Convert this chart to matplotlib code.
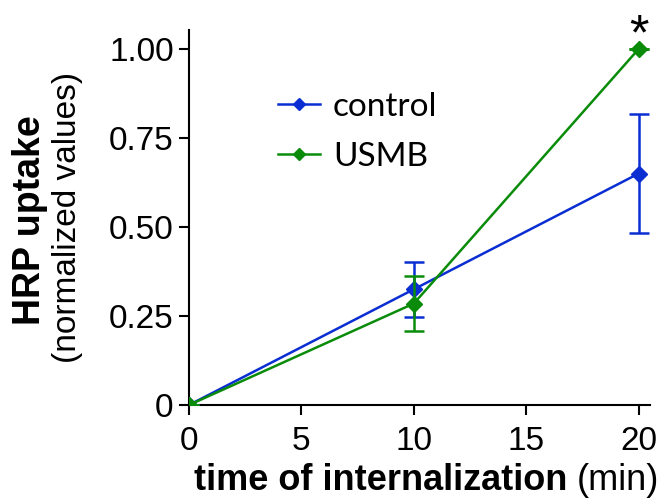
import matplotlib
matplotlib.use("Agg")
import matplotlib.pyplot as plt
from matplotlib.lines import Line2D

plt.rcParams['font.family'] = ['Liberation Sans', 'DejaVu Sans']

# data
time_min = [0, 10, 20]
control = [0.0, 0.325, 0.65]
control_err = [0.0, 0.077, 0.167]
usmb = [0.0, 0.285, 1.0]
usmb_err = [0.0, 0.078, 0.0]
series_names = ['control', 'USMB']

blue = '#0a2ed2'
green = '#0a8c0a'

fig = plt.figure(figsize=(6.59, 5.0), dpi=100)
ax = fig.add_axes([0.2868, 0.19, 0.6995, 0.75])

ax.errorbar(time_min, control, yerr=control_err, color=blue, marker='D',
            markersize=8, lw=1.8, capsize=7, capthick=1.8, elinewidth=1.8,
            zorder=3)
ax.errorbar(time_min, usmb, yerr=usmb_err, color=green, marker='D',
            markersize=8, lw=1.8, capsize=7, capthick=1.8, elinewidth=1.8,
            zorder=4)

ax.text(20, 1.035, '*', ha='center', va='center', fontsize=36, clip_on=False)

ax.set_xlim(0, 20.5)
ax.set_ylim(0, 1.053)
ax.set_xticks([0, 5, 10, 15, 20])
ax.set_yticks([0, 0.25, 0.5, 0.75, 1.0])
ax.set_yticklabels(['0', '0.25', '0.50', '0.75', '1.00'])
ax.spines['top'].set_visible(False)
ax.spines['right'].set_visible(False)
for s in ['left', 'bottom']:
    ax.spines[s].set_linewidth(1.5)
ax.tick_params(direction='out', length=7, width=1.5, labelsize=24)
ax.tick_params(axis='x', pad=8)
ax.tick_params(axis='y', pad=4)

handles = [Line2D([], [], color=blue, marker='D', markersize=6, lw=1.8),
           Line2D([], [], color=green, marker='D', markersize=6, lw=1.8)]
ax.legend(handles, series_names, loc='upper left',
          bbox_to_anchor=(0.193, 0.835), frameon=False, borderpad=0,
          borderaxespad=0, prop={'family': 'Lato', 'size': 24},
          handlelength=1.25, handletextpad=0.4, labelspacing=0.6)

fig.text(0.0455, 0.56, 'HRP uptake', rotation=90, ha='center', va='center',
         fontsize=27, fontweight='bold')
fig.text(0.103, 0.566, '(normalized values)', rotation=90, ha='center',
         va='center', fontsize=24)

t1 = fig.text(0.294, 0.04, 'time of internalization ', ha='left',
              va='center', fontsize=26, fontweight='bold')
fig.canvas.draw()
bb = t1.get_window_extent()
x_end = bb.x1 / fig.bbox.width
fig.text(x_end, 0.04, '(min)', ha='left', va='center', fontsize=26)

fig.savefig('out.png', dpi=100)
